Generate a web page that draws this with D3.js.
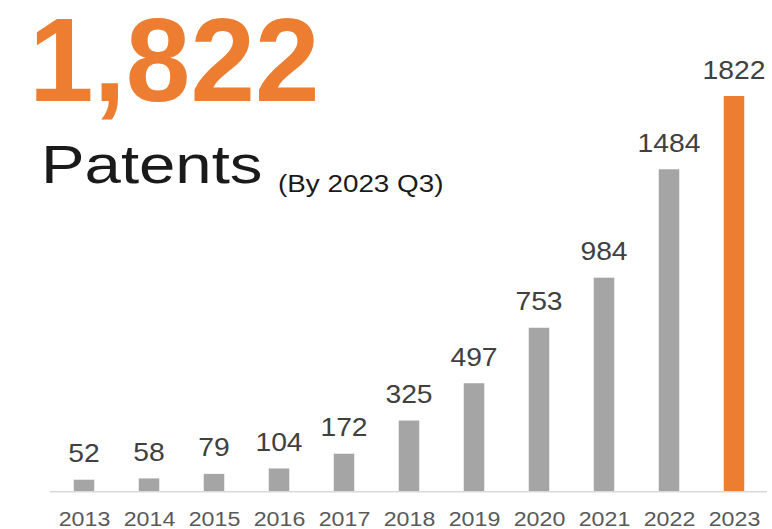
<!DOCTYPE html>
<html>
<head>
<meta charset="utf-8">
<script src="https://cdn.jsdelivr.net/npm/d3@7"></script>
<style>
  html, body { margin: 0; padding: 0; background: #ffffff; }
  svg { display: block; }
  text { font-family: "Liberation Sans", Arial, Helvetica, sans-serif; }
</style>
</head>
<body>
<svg id="chart" width="772" height="529"></svg>
<script>
// Cumulative patent count per year
const years = ["2013", "2014", "2015", "2016", "2017", "2018", "2019", "2020", "2021", "2022", "2023"];
const patents = [52, 58, 79, 104, 172, 325, 497, 753, 984, 1484, 1822];
const headline = "1,822";
const subtitle = "Patents";
const note = "(By 2023 Q3)";

const W = 772, H = 529;
const baseY = 491;
const barW = 20.5;
const grey = "#a5a5a5", orange = "#ed7d31";

const svg = d3.select("#chart");

const x = d3.scalePoint().domain(years).range([51.5, 766.5]).padding(0.5);
const y = d3.scaleLinear().domain([0, d3.max(patents)]).range([baseY, 96]);

const data = years.map((yr, i) => ({ year: yr, value: patents[i], last: i === years.length - 1 }));

// Bars
svg.append("g").selectAll("rect")
  .data(data)
  .join("rect")
  .attr("x", d => x(d.year) - barW / 2)
  .attr("y", d => y(d.value))
  .attr("width", barW)
  .attr("height", d => baseY - y(d.value))
  .attr("fill", d => d.last ? orange : grey);

// Baseline
svg.append("line")
  .attr("x1", 50).attr("x2", 767)
  .attr("y1", baseY + 0.75).attr("y2", baseY + 0.75)
  .attr("stroke", "#d9d9d9")
  .attr("stroke-width", 1.5);

// Value labels above bars
svg.append("g").selectAll("text")
  .data(data)
  .join("text")
  .attr("transform", d => `translate(${x(d.year)},${y(d.value) - 17.5}) scale(1.1,1)`)
  .attr("text-anchor", "middle")
  .attr("font-size", 25.7)
  .attr("fill", "#404040")
  .text(d => d.value);

// Year axis labels
const xAxis = svg.append("g")
  .attr("transform", `translate(0,${baseY})`)
  .call(d3.axisBottom(x).tickSize(0).tickPadding(0));
xAxis.select(".domain").remove();
xAxis.selectAll(".tick text")
  .attr("y", 0).attr("dy", null)
  .attr("transform", "translate(0,34.7) scale(1.19,1)")
  .attr("font-size", 19.5)
  .attr("font-family", "\"Liberation Sans\", Arial, sans-serif")
  .attr("fill", "#595959");

// Headline figure
svg.append("text")
  .attr("transform", "translate(29,100.5) scale(0.976,1)")
  .attr("font-size", 119)
  .attr("font-weight", "bold")
  .attr("fill", orange)
  .text(headline);

svg.append("text")
  .attr("transform", "translate(41,182.7) scale(1.21,1)")
  .attr("font-size", 54)
  .attr("fill", "#1a1a1a")
  .text(subtitle);

svg.append("text")
  .attr("transform", "translate(278,191.7) scale(1.21,1)")
  .attr("font-size", 23)
  .attr("fill", "#1a1a1a")
  .text(note);
</script>
</body>
</html>
